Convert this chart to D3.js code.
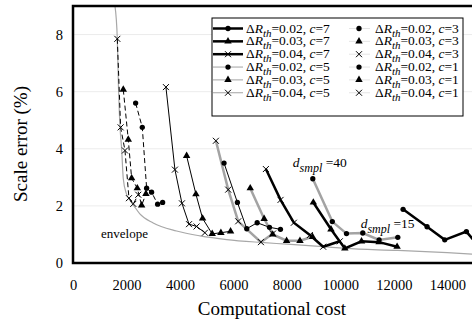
<!DOCTYPE html>
<html>
<head>
<meta charset="utf-8">
<script src="https://cdn.jsdelivr.net/npm/d3@7"></script>
<style>
  body { margin: 0; background: #fff; }
  svg { display: block; font-family: "Liberation Serif", "Times New Roman", serif; }
</style>
</head>
<body>
<div id="container"></div>
<script>
// [cost, scale error %], one array per curve
const c1_dR02 = [[2343,5.6],[2592,4.75],[2754,2.62],[2940,2.48],[3166,2.06],[3353,2.12]];
const c1_dR03 = [[1881,6.07],[2068,4.32],[2193,2.97],[2405,2.62],[2567,2.02],[2729,2.42]];
const c1_dR04 = [[1657,7.85],[1782,4.75],[1944,3.94],[2093,2.27],[2255,2.07],[2442,2.39]];

const c3_dR02 = [[5650,3.5],[6150,2.12],[6500,1.2],[6889,1.41],[7350,1.25],[7760,1.18]];
const c3_dR03 = [[4250,3.75],[4598,2.41],[4848,1.56],[5207,1.02],[5532,1.06],[5894,1.11]];
const c3_dR04 = [[3476,6.16],[3813,3.27],[4075,2.09],[4340,1.36],[4623,1.28],[4934,1.06]];

const c5_dR02 = [[8970,2.95],[9700,1.45],[10230,1.03],[10840,1.05],[11450,0.81],[12150,0.9]];
const c5_dR03 = [[6630,2.62],[7150,1.55],[7470,1.0],[7990,0.78],[8490,0.78],[8960,0.92]];
const c5_dR04 = [[5345,4.28],[5806,2.57],[6180,1.46],[7030,0.73],[7480,1.03]];

const c7_dR02 = [[12347,1.88],[13244,1.27],[13905,0.81],[14716,1.1],[15300,0.45]];
const c7_dR03 = [[8990,2.12],[9650,1.18],[10168,0.51],[10792,0.76],[11450,0.73],[12123,0.57]];
const c7_dR04 = [[7215,3.29],[7764,2.21],[8261,1.41],[8860,0.98],[9357,0.57],[9980,0.76]];

const envelope = [[1570,9.0],[1657,7.85],[1700,6.2],[1757,4.8],[1819,4.0],[1881,2.95],[1990,2.45],
  [2130,2.2],[2280,2.0],[2500,1.72],[3000,1.4],[3875,1.12],[4750,0.95],[5750,0.82],[7030,0.72],
  [8000,0.66],[9357,0.57],[10170,0.51],[12150,0.44],[14000,0.36],[15000,0.31]];

const xTicks = [0,2000,4000,6000,8000,10000,12000,14000];
const yTicks = [0,2,4,6,8];

const width = 472, height = 322;
const marginLeft = 73, plotRight = 474, marginTop = 6, plotBottom = 263;

const x = d3.scaleLinear().domain([0, 15000]).range([marginLeft, plotRight]);
const y = d3.scaleLinear().domain([0, 9]).range([plotBottom, marginTop]);

const styles = {
  thick: {stroke: "#000", width: 2.5, dash: null},
  gray:  {stroke: "#a3a3a3", width: 2.5, dash: null},
  thin:  {stroke: "#000", width: 1, dash: null},
  dash:  {stroke: "#000", width: 1, dash: "5,3"}
};

const series = [
  {data: c5_dR04, shape: "x", style: "gray"},
  {data: c5_dR03, shape: "tri", style: "gray"},
  {data: c5_dR02, shape: "dot", style: "gray"},
  {data: c1_dR04, shape: "x", style: "dash"},
  {data: c1_dR03, shape: "tri", style: "dash"},
  {data: c1_dR02, shape: "dot", style: "dash"},
  {data: c3_dR04, shape: "x", style: "thin"},
  {data: c3_dR03, shape: "tri", style: "thin"},
  {data: c3_dR02, shape: "dot", style: "thin"},
  {data: c7_dR04, shape: "x", style: "thick"},
  {data: c7_dR03, shape: "tri", style: "thick"},
  {data: c7_dR02, shape: "dot", style: "thick"}
];

function markerPath(shape) {
  if (shape === "dot") return d3.symbol(d3.symbolCircle, 22)();
  if (shape === "tri") return d3.symbol(d3.symbolTriangle, 24)();
  return "M-3,-3L3,3M-3,3L3,-3";
}
function drawMarker(g, shape, px, py) {
  g.append("path")
    .attr("transform", `translate(${px},${py})`)
    .attr("d", markerPath(shape))
    .attr("fill", shape === "x" ? "none" : "#000")
    .attr("stroke", shape === "x" ? "#000" : "none")
    .attr("stroke-width", 1);
}

const svg = d3.create("svg")
  .attr("width", width)
  .attr("height", height)
  .attr("viewBox", [0, 0, width, height]);

svg.append("defs").append("clipPath").attr("id", "plot")
  .append("rect").attr("x", marginLeft).attr("y", marginTop)
  .attr("width", plotRight - marginLeft).attr("height", plotBottom - marginTop);

// faint grid
svg.append("g").selectAll("line")
  .data(yTicks.slice(1))
  .join("line")
    .attr("x1", marginLeft).attr("x2", plotRight)
    .attr("y1", d => y(d)).attr("y2", d => y(d))
    .attr("stroke", "#ececec").attr("stroke-width", 1);

const plot = svg.append("g").attr("clip-path", "url(#plot)");

const line = d3.line().x(d => x(d[0])).y(d => y(d[1]));

plot.append("path")
  .attr("d", d3.line().x(d => x(d[0])).y(d => y(d[1])).curve(d3.curveMonotoneX)(envelope))
  .attr("fill", "none")
  .attr("stroke", "#a8a8a8")
  .attr("stroke-width", 1.2);

for (const s of series) {
  const st = styles[s.style];
  plot.append("path")
    .attr("d", line(s.data))
    .attr("fill", "none")
    .attr("stroke", st.stroke)
    .attr("stroke-width", st.width)
    .attr("stroke-dasharray", st.dash);
}
for (const s of series) {
  for (const d of s.data) drawMarker(plot, s.shape, x(d[0]), y(d[1]));
}

// frame
svg.append("rect")
  .attr("x", marginLeft).attr("y", marginTop)
  .attr("width", plotRight - marginLeft).attr("height", plotBottom - marginTop)
  .attr("fill", "none").attr("stroke", "#000").attr("stroke-width", 2.5);

// axes
const gx = svg.append("g")
  .attr("transform", `translate(0,${plotBottom})`)
  .call(d3.axisBottom(x).tickValues(xTicks).tickSize(0).tickPadding(17).tickFormat(d3.format("d")));
const gy = svg.append("g")
  .attr("transform", `translate(${marginLeft},0)`)
  .call(d3.axisLeft(y).tickValues(yTicks).tickSize(0).tickPadding(10));
for (const g of [gx, gy]) {
  g.select(".domain").remove();
  g.selectAll("text")
    .attr("font-family", "Liberation Serif, Times New Roman, serif")
    .attr("font-size", 14.5)
    .attr("fill", "#000");
}

svg.append("text")
  .attr("x", 272).attr("y", 314.5)
  .attr("text-anchor", "middle")
  .attr("font-size", 19)
  .text("Computational cost");

svg.append("text")
  .attr("transform", "translate(27,144) rotate(-90)")
  .attr("text-anchor", "middle")
  .attr("font-size", 19)
  .text("Scale error (%)");

svg.append("text")
  .attr("x", 101).attr("y", 238)
  .attr("font-size", 13)
  .text("envelope");

function dsmplLabel(px, py, val) {
  const t = svg.append("text").attr("x", px).attr("y", py).attr("font-size", 13.5);
  t.append("tspan").attr("font-style", "italic").text("d");
  t.append("tspan").attr("font-style", "italic").attr("dy", 5).attr("font-size", 12).text("smpl");
  t.append("tspan").attr("dy", -5).text(" =" + val);
}
dsmplLabel(x(8000) + 6, 167, 40);
dsmplLabel(x(10500) + 7, 228, 15);

// legend
const legendRows = [
  {col: 0, dR: "0.02", c: 7, shape: "dot", kind: "thick"},
  {col: 0, dR: "0.03", c: 7, shape: "tri", kind: "thick"},
  {col: 0, dR: "0.04", c: 7, shape: "x", kind: "thick"},
  {col: 0, dR: "0.02", c: 5, shape: "dot", kind: "grayThin"},
  {col: 0, dR: "0.03", c: 5, shape: "tri", kind: "grayThin"},
  {col: 0, dR: "0.04", c: 5, shape: "x", kind: "grayThin"},
  {col: 1, dR: "0.02", c: 3, shape: "dot", kind: "faint"},
  {col: 1, dR: "0.03", c: 3, shape: "tri", kind: "faint"},
  {col: 1, dR: "0.04", c: 3, shape: "x", kind: "faint"},
  {col: 1, dR: "0.02", c: 1, shape: "dot", kind: "faint"},
  {col: 1, dR: "0.03", c: 1, shape: "tri", kind: "faint"},
  {col: 1, dR: "0.04", c: 1, shape: "x", kind: "faint"}
];
const lg = svg.append("g");
lg.append("rect")
  .attr("x", 212).attr("y", 18).attr("width", 251).attr("height", 98)
  .attr("fill", "#fff").attr("stroke", "#000").attr("stroke-width", 1);

const legendKinds = {
  thick: {stroke: "#000", width: 2.5, x1: 213, x2: 243, mx: 228},
  grayThin: {stroke: "#a3a3a3", width: 1, x1: 213, x2: 243, mx: 228},
  faint: {stroke: "#e4e4e4", width: 1, x1: 349, x2: 370, mx: 359}
};
legendRows.forEach((r, i) => {
  const row = i % 6;
  const ry = 28.5 + row * 12.85;
  const k = legendKinds[r.kind];
  lg.append("line")
    .attr("x1", k.x1).attr("x2", k.x2).attr("y1", ry).attr("y2", ry)
    .attr("stroke", k.stroke).attr("stroke-width", k.width);
  drawMarker(lg, r.shape, k.mx, ry);
  const t = lg.append("text")
    .attr("x", r.col === 0 ? 246 : 375)
    .attr("y", ry + 4)
    .attr("font-size", 13.5);
  t.append("tspan").text("Δ");
  t.append("tspan").attr("font-style", "italic").text("R");
  t.append("tspan").attr("font-style", "italic").attr("font-size", 11).attr("dy", 4).text("th");
  t.append("tspan").attr("dy", -4).text("=" + r.dR + ", ");
  t.append("tspan").attr("font-style", "italic").text("c");
  t.append("tspan").text("=" + r.c);
});

document.getElementById("container").append(svg.node());
</script>
</body>
</html>
